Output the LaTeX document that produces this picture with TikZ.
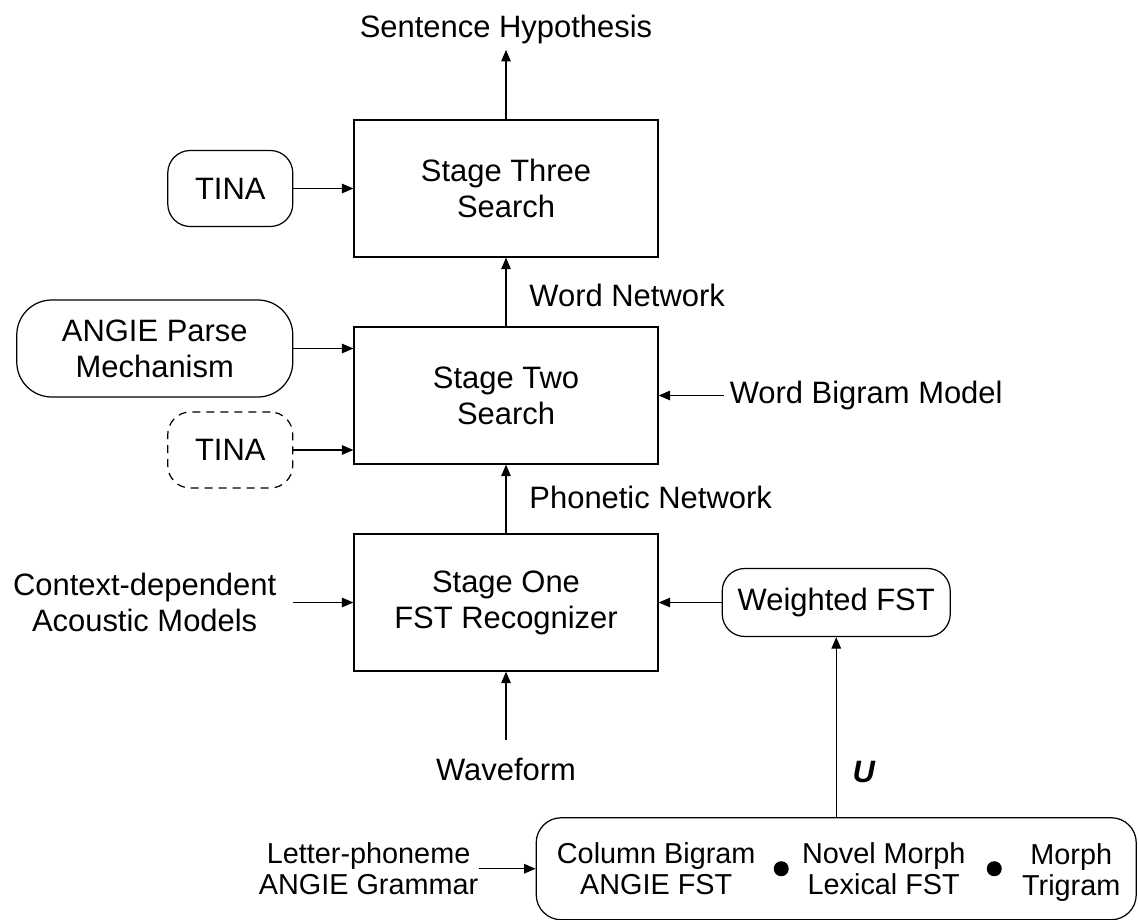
\documentclass[tikz,border=0pt]{standalone}
\usepackage{fontspec}
\setmainfont{Liberation Sans}
\usepackage{tikz}
\usetikzlibrary{positioning,arrows.meta}
\tikzstyle{stage} = [rectangle, minimum width=6.08cm, minimum height=2.74cm, text centered, align=center, draw=black, line width=0.7pt, inner sep=0pt]
\tikzstyle{model} = [rectangle, rounded corners=0.45cm, minimum height=1.52cm, text centered, align=center, draw=black, line width=0.7pt, inner sep=0pt]
\tikzstyle{dashmodel} = [model, dash pattern=on 0.16cm off 0.12cm]
\tikzstyle{plain} = [align=center]
\tikzstyle{small} = [align=center, font=\fontsize{16.4pt}{17.6pt}\selectfont]
\tikzstyle{dot} = [circle, fill=black, inner sep=0pt, minimum size=0.3cm]
\tikzstyle{arrow} = [line width=0.7pt,-{Triangle[length=0.23cm,width=0.19cm]}]

\begin{document}
\begin{tikzpicture}[node distance = 4.14cm, font=\fontsize{17.6pt}{20.5pt}\selectfont]
\useasboundingbox (0,0) rectangle (22.76,-18.4);

	\node (sthree) [stage] at (10.12,-3.77) {Stage Three\\Search};
		\node (stwo) [stage,below of=sthree] {Stage Two\\Search};
		\node (sone) [stage,below of=stwo] {Stage One\\FST Recognizer};

	\node (hyp) [above=1.39cm of sthree] {Sentence Hypothesis};
	\node (tina) [model,minimum width=2.5cm,left=1.2cm of sthree] {TINA};
	\node (angie) [model,minimum width=5.52cm,minimum height=1.94cm,rounded corners=0.7cm,anchor=east] at ([xshift=-1.2cm,yshift=0.94cm]stwo.west) {ANGIE Parse\\Mechanism};
	\node (tinab) [dashmodel,minimum width=2.5cm,anchor=east] at ([xshift=-1.2cm,yshift=-1.09cm]stwo.west) {TINA};
	\node (wbm) [right=1.3cm of stwo] {Word Bigram Model};
	\node (cdam) [plain,left=1.42cm of sone] {Context-dependent\\Acoustic Models};
	\node (wfst) [model,minimum width=4.56cm,minimum height=1.36cm,right=1.26cm of sone] {Weighted FST};
	\node (wave) [below=1.6cm of sone] {Waveform};

	\node (lex) [model,minimum width=12cm,minimum height=2.04cm,rounded corners=0.5cm,below=3.6cm of wfst] {};
		\node (colbi) [small] at ([xshift=-3.6cm]lex.center) {Column Bigram\\ANGIE FST};
		\node (novel) [small] at ([xshift=0.95cm]lex.center) {Novel Morph\\Lexical FST};
		\node (trigram) [small] at ([xshift=4.7cm,yshift=-0.07cm]lex.center) {Morph\\Trigram};
		\node (dota) [dot] at ([xshift=-1.1cm]lex.center) {};
		\node (dotb) [dot] at ([xshift=3.16cm]lex.center) {};
	\node (lpg) [small,inner sep=0pt,left=1.14cm of lex] {Letter-phoneme\\ANGIE Grammar};

	\draw [arrow] (sthree) -- (hyp);
	\draw [arrow] (stwo) -- node[pos=0.45,right=0.34cm] {Word Network} (sthree);
	\draw [arrow] (sone) -- node[pos=0.52,right=0.34cm] {Phonetic Network} (stwo);
	\draw [arrow,shorten <=0.24cm] (wave) -- (sone);
	\draw [arrow] (tina) -- (sthree);
	\draw [arrow] (angie) -- (angie -| stwo.west);
	\draw [arrow] (tinab) -- (tinab -| stwo.west);
	\draw [arrow] (wbm) -- (wbm -| stwo.east);
	\draw [arrow,shorten <=0.22cm] (cdam) -- (sone);
	\draw [arrow] (wfst) -- (sone);
	\draw [arrow] (lex) -- node[pos=0.25,right=0.2cm] {\textbf{\textit{U}}} (wfst);
	\draw [arrow] (lpg) -- (lex);

\end{tikzpicture}
\end{document}
